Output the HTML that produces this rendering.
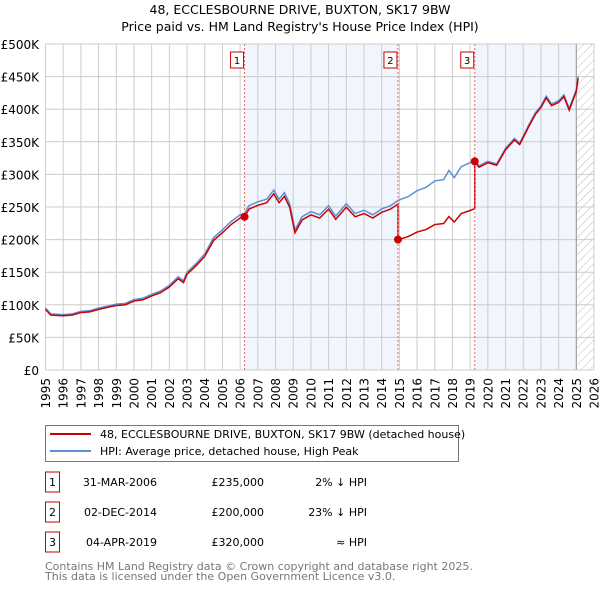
<!DOCTYPE html>
<html><head><meta charset="utf-8"><style>
body{margin:0;background:#fff;font-family:"Liberation Sans","DejaVu Sans",sans-serif}
svg text{font-family:"DejaVu Sans","Liberation Sans",sans-serif}
</style></head><body>
<svg id="c" width="600" height="590" xmlns="http://www.w3.org/2000/svg">
<defs><pattern id="hatch" width="6" height="6" patternUnits="userSpaceOnUse" patternTransform="rotate(45)"><line x1="0" y1="0" x2="0" y2="6" stroke="#bbb" stroke-width="1"/></pattern></defs>
<text x="300" y="14" text-anchor="middle" font-size="12.5">48, ECCLESBOURNE DRIVE, BUXTON, SK17 9BW</text>
<text x="300" y="31" text-anchor="middle" font-size="12.5">Price paid vs. HM Land Registry's House Price Index (HPI)</text>
<g id="grid"></g><g id="plot"></g>
<g>
<rect x="45.5" y="425.5" width="413" height="36" fill="#fff" stroke="#777"/>
<line x1="50" y1="434" x2="91" y2="434" stroke="#c00" stroke-width="2"/>
<text x="100" y="438" font-size="11">48, ECCLESBOURNE DRIVE, BUXTON, SK17 9BW (detached house)</text>
<line x1="50" y1="451" x2="91" y2="451" stroke="#5b8fd6" stroke-width="2"/>
<text x="100" y="455" font-size="11">HPI: Average price, detached house, High Peak</text>
</g>
<g id="table" font-size="11"></g>
<text x="45" y="570" font-size="11" fill="#777">Contains HM Land Registry data © Crown copyright and database right 2025.</text>
<text x="45" y="580" font-size="11" fill="#777">This data is licensed under the Open Government Licence v3.0.</text>
</svg>
<script>
const years=[1995.0,1995.3,1996,1996.5,1997,1997.5,1998,1998.5,1999,1999.5,2000,2000.5,2001,2001.5,2002,2002.5,2002.8,2003,2003.5,2004,2004.5,2005,2005.5,2006,2006.25,2006.5,2007,2007.5,2007.9,2008.2,2008.5,2008.8,2009.1,2009.5,2010,2010.5,2011,2011.4,2012,2012.5,2013,2013.5,2014,2014.5,2014.92,2015.5,2016,2016.5,2017,2017.5,2017.8,2018.1,2018.5,2019,2019.26,2019.5,2020,2020.5,2021,2021.5,2021.8,2022.3,2022.7,2023.0,2023.3,2023.6,2024,2024.3,2024.6,2025,2025.1];
const hpi=[95,86,85,86,90,91,95,98,101,102,108,110,116,121,130,143,137,150,163,178,203,215,228,238,240,252,258,262,276,262,272,255,215,235,243,238,252,236,255,240,245,238,247,252,260,266,275,280,290,292,306,295,312,318,322,313,320,316,340,355,348,375,395,405,420,408,413,422,401,430,450];
const saleDates=[2006.25,2014.92,2019.26];
const saleLabels=["31-MAR-2006","02-DEC-2014","04-APR-2019"];
const salePrices=[235,200,320];
const saleRel=["2% ↓ HPI","23% ↓ HPI","≈ HPI"];
const yTicks=[0,50,100,150,200,250,300,350,400,450,500];
const xTicks=[1995,1996,1997,1998,1999,2000,2001,2002,2003,2004,2005,2006,2007,2008,2009,2010,2011,2012,2013,2014,2015,2016,2017,2018,2019,2020,2021,2022,2023,2024,2025,2026];
const NS="http://www.w3.org/2000/svg";
const X=t=>45.5+(t-1995)*(594-45.5)/31, Y=v=>370-v*(370-44)/500;
function mk(tag,at,p){const e=document.createElementNS(NS,tag);for(const k in at)e.setAttribute(k,at[k]);p.appendChild(e);return e;}
const g=document.getElementById('grid'),p=document.getElementById('plot'),tb=document.getElementById('table');
const s=mk('rect',{x:X(saleDates[0]),y:Y(500),width:X(saleDates[1])-X(saleDates[0]),height:Y(0)-Y(500),fill:'#eef3fc',opacity:0.8},g);


const s2=mk('rect',{x:X(saleDates[2]),y:Y(500),width:X(2025)-X(saleDates[2]),height:Y(0)-Y(500),fill:'#eef3fc',opacity:0.8},g);


const h=mk('rect',{x:X(2025),y:Y(500),width:X(2026)-X(2025),height:Y(0)-Y(500),fill:'url(#hatch)'},g);


yTicks.forEach(v=>{mk('line',{x1:X(1995),x2:X(2026),y1:Y(v),y2:Y(v),stroke:'#ccc'},g);
const t=mk('text',{x:39,y:Y(v)+5,'text-anchor':'end','font-size':12},g);t.textContent='£'+(v?v+'K':'0');

});
xTicks.forEach(v=>{mk('line',{x1:X(v),x2:X(v),y1:Y(0),y2:Y(500),stroke:'#ccc'},g);
const t=mk('text',{x:0,y:0,'text-anchor':'end','font-size':12,transform:'translate('+(X(v)+4.5)+',378) rotate(-90)'},g);t.textContent=v;

});
mk('line',{x1:X(2025),x2:X(2025),y1:Y(0),y2:Y(500),stroke:'#999'},g);
const hp=mk('polyline',{points:years.map((t,i)=>X(t)+','+Y(hpi[i])).join(' '),fill:'none',stroke:'#5b8fd6','stroke-width':1.5},p);


function hpiAt(t){for(let i=1;i<years.length;i++)if(t<=years[i]){const f=(t-years[i-1])/(years[i]-years[i-1]);return hpi[i-1]+f*(hpi[i]-hpi[i-1]);}return hpi[hpi.length-1];}
const fac=saleDates.map((d,i)=>salePrices[i]/hpiAt(d));
const pts=[];let seg=0;
years.forEach((t,i)=>{while(seg<3&&t>saleDates[seg]){const d=saleDates[seg];const f0=seg?fac[seg-1]:fac[0];pts.push([d,hpiAt(d)*f0]);pts.push([d,salePrices[seg]]);seg++;}
const f=seg?fac[seg-1]:fac[0];pts.push([t,hpi[i]*f]);});
const rp=mk('polyline',{points:pts.map(q=>X(q[0])+','+Y(q[1])).join(' '),fill:'none',stroke:'#c00','stroke-width':1.5},p);


saleDates.forEach((d,i)=>{mk('line',{x1:X(d),x2:X(d),y1:Y(0),y2:Y(500),stroke:'#e66','stroke-dasharray':'2,2'},p);
const c=mk('circle',{cx:X(d),cy:Y(salePrices[i]),r:4,fill:'#c00'},p);


mk('rect',{x:X(d)-14,y:52,width:13,height:16,fill:'#fff',stroke:'#c00'},p);
const l=mk('text',{x:X(d)-7.5,y:64,'text-anchor':'middle','font-size':10},p);l.textContent=i+1;


const y=483+i*30;
mk('rect',{x:45.5,y:y-11,width:14,height:20,fill:'#fff',stroke:'#c00'},tb);
const n=mk('text',{x:52.5,y:y+3,'text-anchor':'middle'},tb);n.textContent=i+1;


const a=mk('text',{x:157,y:y+3,'text-anchor':'end'},tb);a.textContent=saleLabels[i];


const b=mk('text',{x:264,y:y+3,'text-anchor':'end'},tb);b.textContent='£'+salePrices[i]+',000';


const r=mk('text',{x:367,y:y+3,'text-anchor':'end'},tb);r.textContent=saleRel[i];

});
</script>
</body></html>
